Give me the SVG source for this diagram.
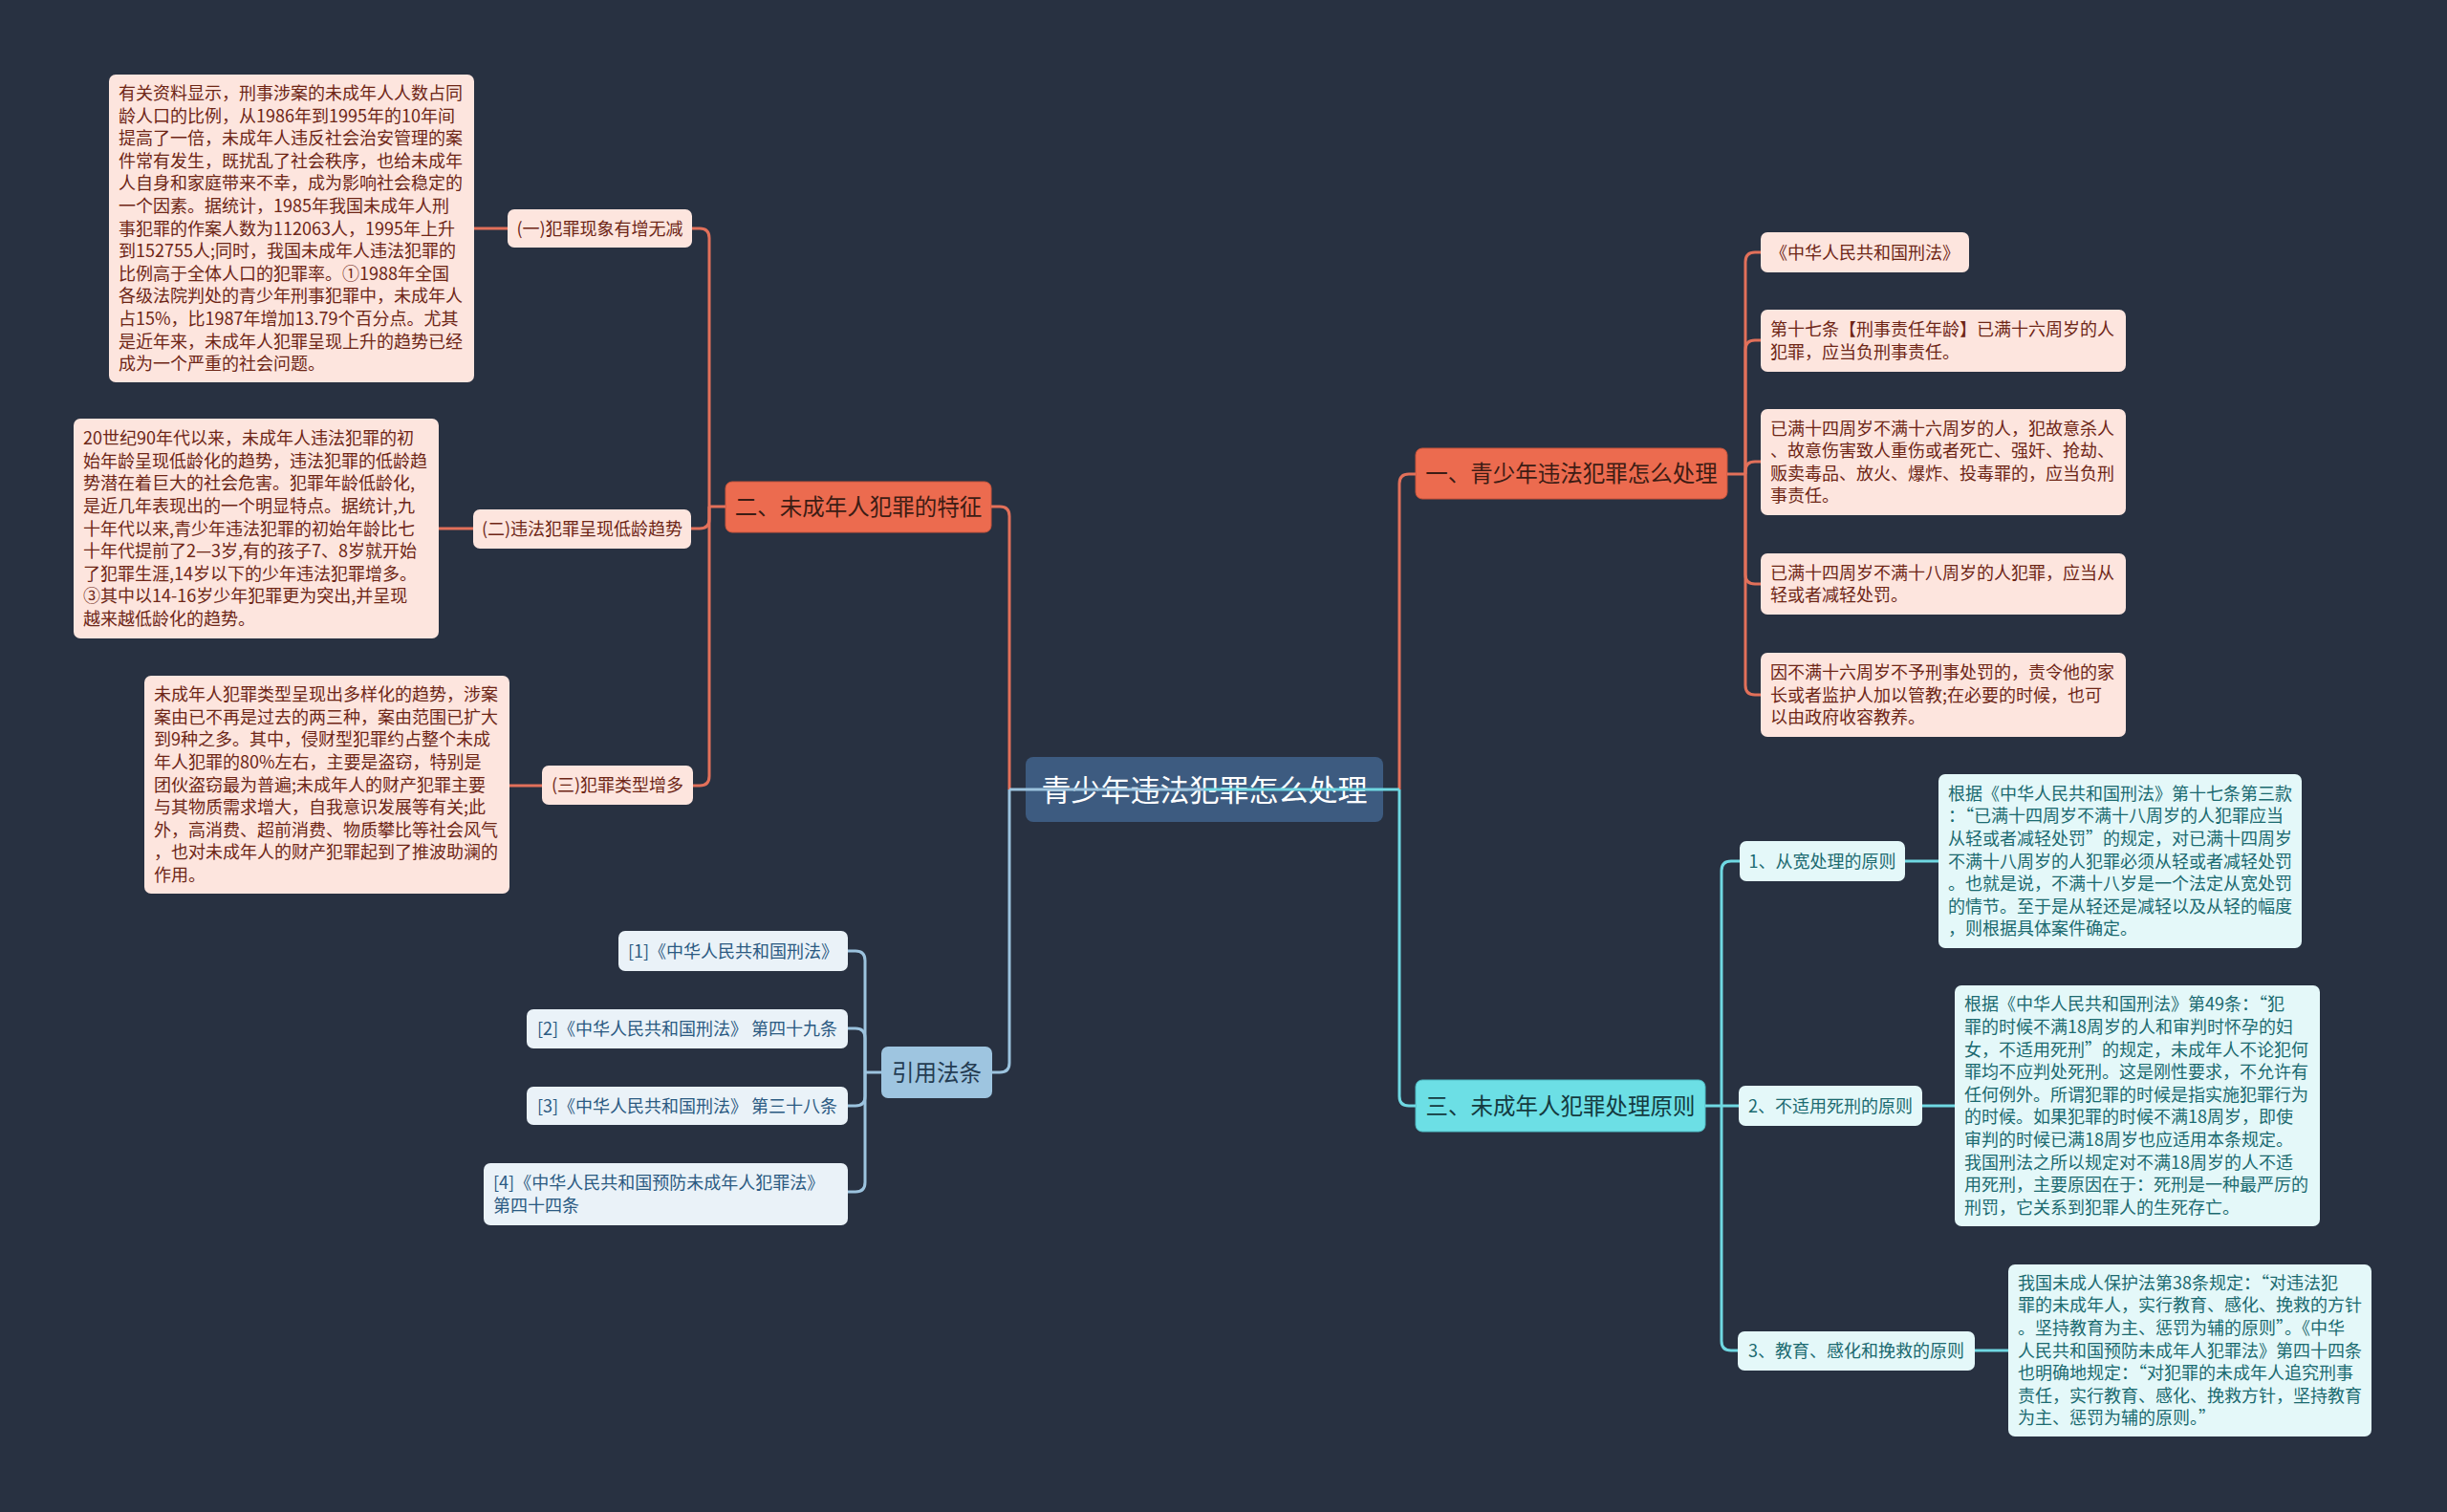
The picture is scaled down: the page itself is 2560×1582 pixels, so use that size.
<svg xmlns="http://www.w3.org/2000/svg" width="2560" height="1582" viewBox="0 0 2560 1582">
<style>
text{font-family:"Noto Sans CJK SC","Noto Sans",sans-serif;}
.bg{fill:#283141;}
.o{fill:none;stroke:#e2705a;stroke-width:3;}
.c{fill:none;stroke:#6fd8e2;stroke-width:3;}
.b{fill:none;stroke:#9cc3de;stroke-width:3;}
.peach{fill:#fde5de;}
.pt{fill:#6e2616;font-size:18px;}
.orange{fill:#ec6b4f;stroke:#c9553c;stroke-width:1;}
.ot{fill:#3c1c14;font-size:23.5px;}
.cy{fill:#6cdfe5;stroke:#4fbcc4;stroke-width:1;}
.cyt{fill:#143a3f;font-size:23.5px;}
.cyl{fill:#e4f8f9;}
.cylt{fill:#1b6a70;font-size:18px;}
.rb{fill:#9ec5e0;}
.rbt{fill:#243c52;font-size:23.5px;}
.rl{fill:#eaf2f8;}
.rlt{fill:#2b5a82;font-size:18px;}
.mid{text-anchor:middle;}
.fw{font-feature-settings:"fwid";}
</style>
<rect class="bg" x="0" y="0" width="2560" height="1582"/>

<g id="center">
<rect x="1073" y="792" width="374" height="68" rx="8" fill="#3d5b80"/>
<text x="1260" y="837.8" class="mid" fill="#ffffff" font-size="31">青少年违法犯罪怎么处理</text>
</g>

<g id="branch1">
<rect class="orange" x="1481" y="469" width="326" height="53" rx="7"/>
<text class="ot mid" x="1644" y="504.4">一、青少年违法犯罪怎么处理</text>
</g>
<g id="b1-law">
<rect class="peach" x="1842" y="243" width="218" height="42" rx="7"/>
<text class="pt mid" x="1951" y="270.5">《中华人民共和国刑法》</text>
</g>
<g id="b1-art17">
<rect class="peach" x="1842" y="324" width="382" height="65" rx="7"/>
<text class="pt" x="1852" y="351.2"><tspan x="1852">第十七条【刑事责任年龄】已满十六周岁的人</tspan><tspan x="1852" dy="23.6">犯罪，应当负刑事责任。</tspan></text>
</g>
<g id="b1-14to16">
<rect class="peach" x="1842" y="428" width="382" height="111" rx="7"/>
<text class="pt" x="1852" y="454.6"><tspan x="1852">已满十四周岁不满十六周岁的人，犯故意杀人</tspan><tspan x="1852" dy="23.6">、故意伤害致人重伤或者死亡、强奸、抢劫、</tspan><tspan x="1852" dy="23.6">贩卖毒品、放火、爆炸、投毒罪的，应当负刑</tspan><tspan x="1852" dy="23.6">事责任。</tspan></text>
</g>
<g id="b1-14to18">
<rect class="peach" x="1842" y="579" width="382" height="64" rx="7"/>
<text class="pt" x="1852" y="605.7"><tspan x="1852">已满十四周岁不满十八周岁的人犯罪，应当从</tspan><tspan x="1852" dy="23.6">轻或者减轻处罚。</tspan></text>
</g>
<g id="b1-under16">
<rect class="peach" x="1842" y="683" width="382" height="88" rx="7"/>
<text class="pt" x="1852" y="709.9"><tspan x="1852">因不满十六周岁不予刑事处罚的，责令他的家</tspan><tspan x="1852" dy="23.6">长或者监护人加以管教;在必要的时候，也可</tspan><tspan x="1852" dy="23.6">以由政府收容教养。</tspan></text>
</g>

<g id="branch2">
<rect class="orange" x="759" y="504" width="278" height="53" rx="7"/>
<text class="ot mid" x="898" y="539.4">二、未成年人犯罪的特征</text>
</g>
<g id="b2-1">
<rect class="peach" x="531" y="219" width="193" height="40" rx="7"/>
<text class="pt mid" x="627.5" y="245.5">(一)犯罪现象有增无减</text>
</g>
<g id="b2-1-text">
<rect class="peach" x="114" y="78" width="382" height="322" rx="7"/>
<text class="pt" x="124" y="103.9"><tspan x="124">有关资料显示，刑事涉案的未成年人人数占同</tspan><tspan x="124" dy="23.6">龄人口的比例，从1986年到1995年的10年间</tspan><tspan x="124" dy="23.6">提高了一倍，未成年人违反社会治安管理的案</tspan><tspan x="124" dy="23.6">件常有发生，既扰乱了社会秩序，也给未成年</tspan><tspan x="124" dy="23.6">人自身和家庭带来不幸，成为影响社会稳定的</tspan><tspan x="124" dy="23.6">一个因素。据统计，1985年我国未成年人刑</tspan><tspan x="124" dy="23.6">事犯罪的作案人数为112063人，1995年上升</tspan><tspan x="124" dy="23.6">到152755人;同时，我国未成年人违法犯罪的</tspan><tspan x="124" dy="23.6">比例高于全体人口的犯罪率。①1988年全国</tspan><tspan x="124" dy="23.6">各级法院判处的青少年刑事犯罪中，未成年人</tspan><tspan x="124" dy="23.6">占15%，比1987年增加13.79个百分点。尤其</tspan><tspan x="124" dy="23.6">是近年来，未成年人犯罪呈现上升的趋势已经</tspan><tspan x="124" dy="23.6">成为一个严重的社会问题。</tspan></text>
</g>
<g id="b2-2">
<rect class="peach" x="495" y="533" width="228" height="41" rx="7"/>
<text class="pt mid" x="609" y="560">(二)违法犯罪呈现低龄趋势</text>
</g>
<g id="b2-2-text">
<rect class="peach" x="77" y="438" width="382" height="230" rx="7"/>
<text class="pt" x="87" y="465.1"><tspan x="87">20世纪90年代以来，未成年人违法犯罪的初</tspan><tspan x="87" dy="23.6">始年龄呈现低龄化的趋势，违法犯罪的低龄趋</tspan><tspan x="87" dy="23.6">势潜在着巨大的社会危害。犯罪年龄低龄化,</tspan><tspan x="87" dy="23.6">是近几年表现出的一个明显特点。据统计,九</tspan><tspan x="87" dy="23.6">十年代以来,青少年违法犯罪的初始年龄比七</tspan><tspan x="87" dy="23.6">十年代提前了2—3岁,有的孩子7、8岁就开始</tspan><tspan x="87" dy="23.6">了犯罪生涯,14岁以下的少年违法犯罪增多。</tspan><tspan x="87" dy="23.6">③其中以14-16岁少年犯罪更为突出,并呈现</tspan><tspan x="87" dy="23.6">越来越低龄化的趋势。</tspan></text>
</g>
<g id="b2-3">
<rect class="peach" x="567" y="801" width="158" height="41" rx="7"/>
<text class="pt mid" x="646" y="828">(三)犯罪类型增多</text>
</g>
<g id="b2-3-text">
<rect class="peach" x="151" y="707" width="382" height="228" rx="7"/>
<text class="pt" x="161" y="733.1"><tspan x="161">未成年人犯罪类型呈现出多样化的趋势，涉案</tspan><tspan x="161" dy="23.6">案由已不再是过去的两三种，案由范围已扩大</tspan><tspan x="161" dy="23.6">到9种之多。其中，侵财型犯罪约占整个未成</tspan><tspan x="161" dy="23.6">年人犯罪的80%左右，主要是盗窃，特别是</tspan><tspan x="161" dy="23.6">团伙盗窃最为普遍;未成年人的财产犯罪主要</tspan><tspan x="161" dy="23.6">与其物质需求增大，自我意识发展等有关;此</tspan><tspan x="161" dy="23.6">外，高消费、超前消费、物质攀比等社会风气</tspan><tspan x="161" dy="23.6">，也对未成年人的财产犯罪起到了推波助澜的</tspan><tspan x="161" dy="23.6">作用。</tspan></text>
</g>

<g id="branch3">
<rect class="cy" x="1481" y="1130" width="303" height="54" rx="7"/>
<text class="cyt mid" x="1632.5" y="1166">三、未成年人犯罪处理原则</text>
</g>
<g id="b3-1">
<rect class="cyl" x="1820" y="880" width="173" height="42" rx="7"/>
<text class="cylt mid" x="1906.5" y="907.5">1、从宽处理的原则</text>
</g>
<g id="b3-1-text">
<rect class="cyl" x="2028" y="810" width="380" height="182" rx="7"/>
<text class="cylt" x="2038" y="836.7"><tspan x="2038">根据《中华人民共和国刑法》第十七条第三款</tspan><tspan x="2038" dy="23.6">：<tspan class="fw">“</tspan>已满十四周岁不满十八周岁的人犯罪应当</tspan><tspan x="2038" dy="23.6">从轻或者减轻处罚<tspan class="fw">”</tspan>的规定，对已满十四周岁</tspan><tspan x="2038" dy="23.6">不满十八周岁的人犯罪必须从轻或者减轻处罚</tspan><tspan x="2038" dy="23.6">。也就是说，不满十八岁是一个法定从宽处罚</tspan><tspan x="2038" dy="23.6">的情节。至于是从轻还是减轻以及从轻的幅度</tspan><tspan x="2038" dy="23.6">，则根据具体案件确定。</tspan></text>
</g>
<g id="b3-2">
<rect class="cyl" x="1819" y="1136" width="192" height="42" rx="7"/>
<text class="cylt mid" x="1915" y="1163.5">2、不适用死刑的原则</text>
</g>
<g id="b3-2-text">
<rect class="cyl" x="2045" y="1031" width="382" height="252" rx="7"/>
<text class="cylt" x="2055" y="1057.3"><tspan x="2055">根据《中华人民共和国刑法》第49条：<tspan class="fw">“</tspan>犯</tspan><tspan x="2055" dy="23.6">罪的时候不满18周岁的人和审判时怀孕的妇</tspan><tspan x="2055" dy="23.6">女，不适用死刑<tspan class="fw">”</tspan>的规定，未成年人不论犯何</tspan><tspan x="2055" dy="23.6">罪均不应判处死刑。这是刚性要求，不允许有</tspan><tspan x="2055" dy="23.6">任何例外。所谓犯罪的时候是指实施犯罪行为</tspan><tspan x="2055" dy="23.6">的时候。如果犯罪的时候不满18周岁，即使</tspan><tspan x="2055" dy="23.6">审判的时候已满18周岁也应适用本条规定。</tspan><tspan x="2055" dy="23.6">我国刑法之所以规定对不满18周岁的人不适</tspan><tspan x="2055" dy="23.6">用死刑，主要原因在于：死刑是一种最严厉的</tspan><tspan x="2055" dy="23.6">刑罚，它关系到犯罪人的生死存亡。</tspan></text>
</g>
<g id="b3-3">
<rect class="cyl" x="1818" y="1393" width="248" height="41" rx="7"/>
<text class="cylt mid" x="1942" y="1420">3、教育、感化和挽救的原则</text>
</g>
<g id="b3-3-text">
<rect class="cyl" x="2101" y="1323" width="380" height="180" rx="7"/>
<text class="cylt" x="2111" y="1348.7"><tspan x="2111">我国未成人保护法第38条规定：<tspan class="fw">“</tspan>对违法犯</tspan><tspan x="2111" dy="23.6">罪的未成年人，实行教育、感化、挽救的方针</tspan><tspan x="2111" dy="23.6">。坚持教育为主、惩罚为辅的原则<tspan class="fw">”</tspan>。《中华</tspan><tspan x="2111" dy="23.6">人民共和国预防未成年人犯罪法》第四十四条</tspan><tspan x="2111" dy="23.6">也明确地规定：<tspan class="fw">“</tspan>对犯罪的未成年人追究刑事</tspan><tspan x="2111" dy="23.6">责任，实行教育、感化、挽救方针，坚持教育</tspan><tspan x="2111" dy="23.6">为主、惩罚为辅的原则。<tspan class="fw">”</tspan></tspan></text>
</g>

<g id="refs">
<rect class="rb" x="922" y="1095" width="116" height="54" rx="7"/>
<text class="rbt mid" x="980" y="1131">引用法条</text>
</g>
<g id="ref1">
<rect class="rl" x="647" y="974" width="240" height="42" rx="7"/>
<text class="rlt mid" x="767" y="1001.5">[1]《中华人民共和国刑法》</text>
</g>
<g id="ref2">
<rect class="rl" x="551" y="1056" width="336" height="41" rx="7"/>
<text class="rlt mid" x="719" y="1083">[2]《中华人民共和国刑法》 第四十九条</text>
</g>
<g id="ref3">
<rect class="rl" x="551" y="1137" width="336" height="40" rx="7"/>
<text class="rlt mid" x="719" y="1163.5">[3]《中华人民共和国刑法》 第三十八条</text>
</g>
<g id="ref4">
<rect class="rl" x="506" y="1217" width="381" height="65" rx="7"/>
<text class="rlt" x="516" y="1244.2"><tspan x="516">[4]《中华人民共和国预防未成年人犯罪法》</tspan><tspan x="516" dy="23.6">第四十四条</tspan></text>
</g>

<g id="connectors">
<path class="o" d="M1464,826 V506 Q1464,496 1474,496 H1481"/>
<path class="c" d="M1464,826 V1147 Q1464,1157 1474,1157 H1481"/>
<path class="o" d="M1056,826 V540 Q1056,530 1046,530 H1037"/>
<path class="b" d="M1056,826 V1112 Q1056,1122 1046,1122 H1038"/>
<path class="b" d="M1056,826 H1260"/>
<path class="c" d="M1260,826 H1464"/>

<path class="o" d="M1807,496 H1826"/>
<path class="o" d="M1826,496 V274 Q1826,264 1836,264 H1842"/>
<path class="o" d="M1826,496 V366 Q1826,356 1836,356 H1842"/>
<path class="o" d="M1826,496 V493 Q1826,483 1836,483 H1842"/>
<path class="o" d="M1826,496 V601 Q1826,611 1836,611 H1842"/>
<path class="o" d="M1826,496 V717 Q1826,727 1836,727 H1842"/>

<path class="o" d="M759,530 H742"/>
<path class="o" d="M742,530 V249 Q742,239 732,239 H724"/>
<path class="o" d="M742,530 V543 Q742,553 732,553 H723"/>
<path class="o" d="M742,530 V812 Q742,822 732,822 H725"/>
<path class="o" d="M496,239 H531"/>
<path class="o" d="M459,553 H495"/>
<path class="o" d="M533,822 H567"/>

<path class="c" d="M1784,1157 H1819"/>
<path class="c" d="M1801,1157 V911 Q1801,901 1811,901 H1820"/>
<path class="c" d="M1801,1157 V1403 Q1801,1413 1811,1413 H1818"/>
<path class="c" d="M1993,901 H2028"/>
<path class="c" d="M2011,1157 H2045"/>
<path class="c" d="M2066,1413 H2101"/>

<path class="b" d="M922,1122 H905"/>
<path class="b" d="M905,1122 V1005 Q905,995 895,995 H887"/>
<path class="b" d="M905,1122 V1086 Q905,1076 895,1076 H887"/>
<path class="b" d="M905,1122 V1147 Q905,1157 895,1157 H887"/>
<path class="b" d="M905,1122 V1237 Q905,1247 895,1247 H887"/>
</g>
</svg>
